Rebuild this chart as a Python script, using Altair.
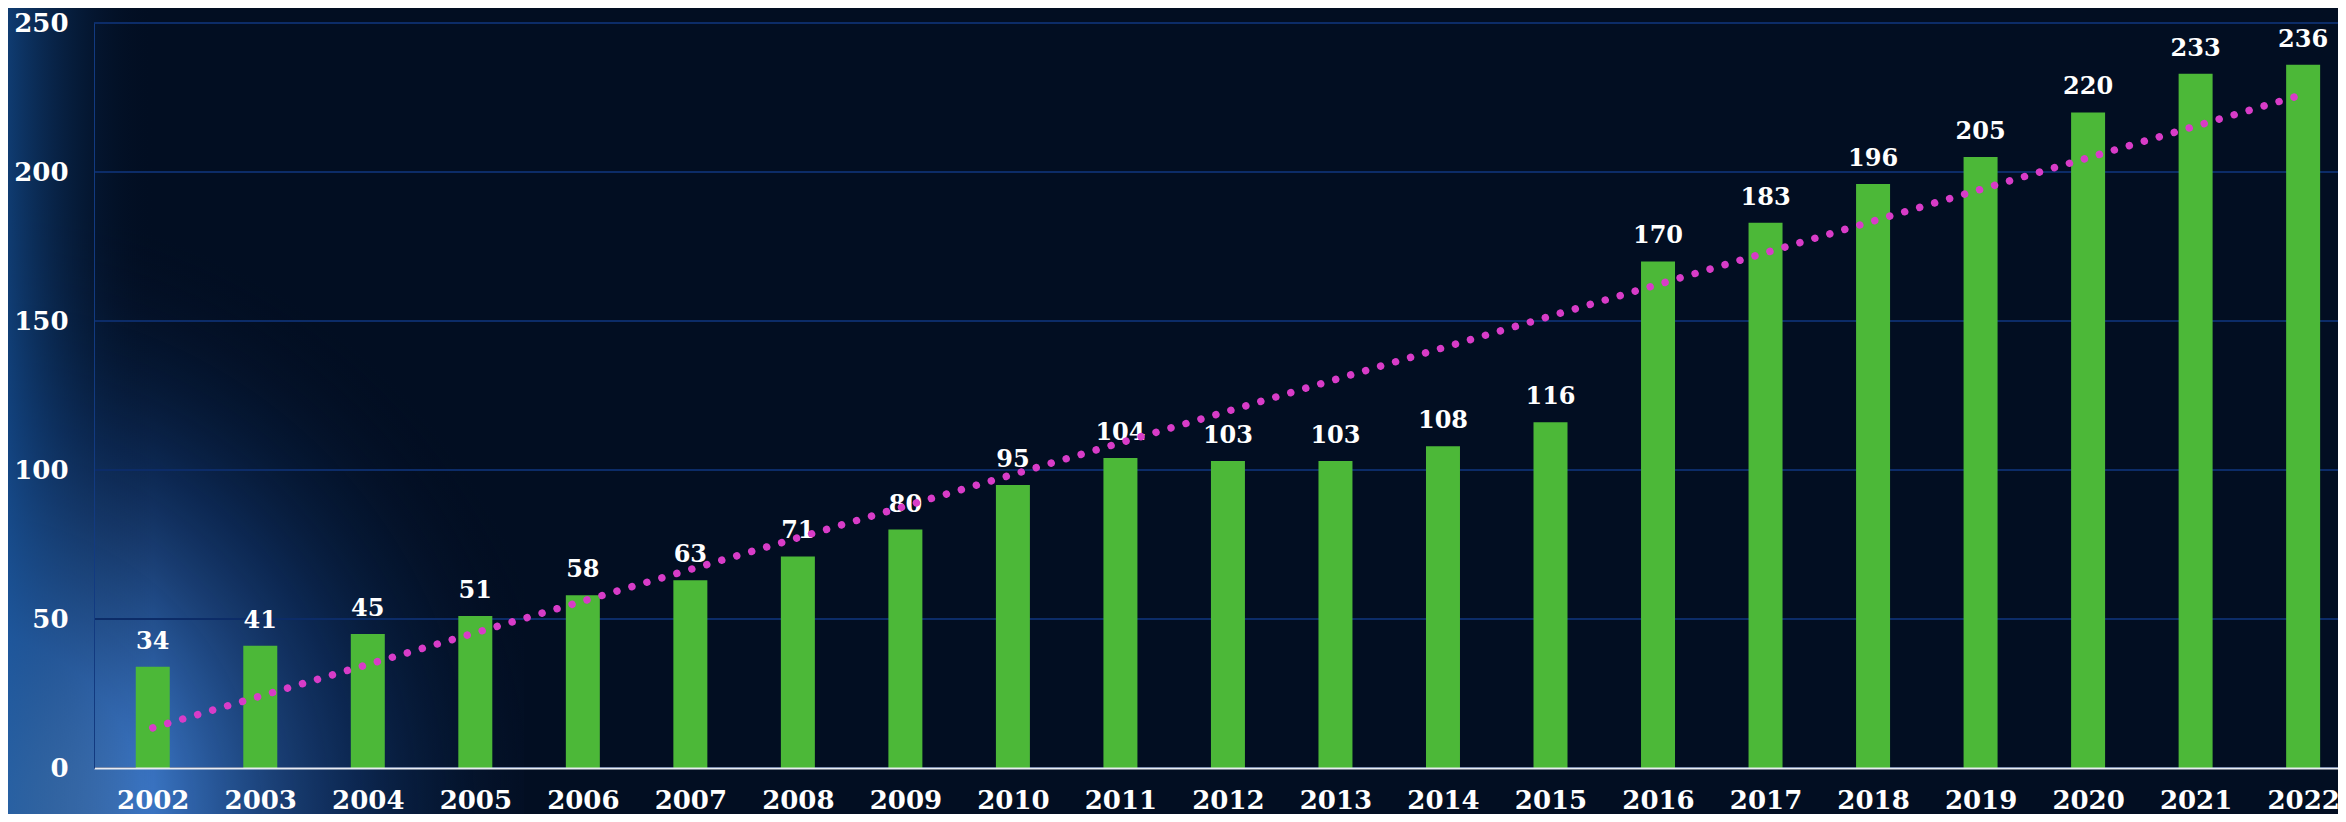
import altair as alt
import pandas as pd

years = list(range(2002, 2023))
values = [34, 41, 45, 51, 58, 63, 71, 80, 95, 104, 103, 103, 108, 116,
          170, 183, 196, 205, 220, 233, 236]
y_ticks = [0, 50, 100, 150, 200, 250]

df = pd.DataFrame({"year": years, "value": values})
grid_df = pd.DataFrame({"tick": y_ticks})

W, H = 2244, 745
FONT = "DejaVu Serif"
BG = "#020e22"

xscale = alt.Scale(domain=[2001.5, 2001.5 + W / 108.0], nice=False, zero=False)
yscale = alt.Scale(domain=[0, 250], nice=False)

x_axis = alt.Axis(values=years, format="d", title=None, grid=False,
                  tickSize=0, labelPadding=40, labelBaseline="alphabetic",
                  labelFont=FONT, zindex=1,
                  labelFontWeight="bold", labelFontSize=26,
                  labelColor="white", domainColor="#e8ecf2",
                  domainWidth=2, labelOverlap=False, labelFlush=False)
y_axis = alt.Axis(values=y_ticks, title=None, grid=False, tickSize=0,
                  labelPadding=26, labelFont=FONT, zindex=1,
                  labelFontWeight="bold", labelFontSize=26,
                  labelColor="white", domainColor="#123a80",
                  domainWidth=1)

# background glow (decoration)
glow = alt.Chart(pd.DataFrame({"a": [0]})).mark_rect(
    color=alt.Gradient(
        gradient="radial", x1=0, y1=1, x2=0, y2=1, r1=0, r2=1,
        stops=[alt.GradientStop(offset=0, color="#72aef0"),
               alt.GradientStop(offset=0.3, color="#3c78c8"),
               alt.GradientStop(offset=0.65, color="rgba(20,60,120,0.55)"),
               alt.GradientStop(offset=1, color="rgba(2,14,34,0)")])
).encode(x=alt.value(-86), x2=alt.value(430), y=alt.value(180), y2=alt.value(791))

edge = alt.Chart(pd.DataFrame({"a": [0]})).mark_rect(
    color=alt.Gradient(
        gradient="linear", x1=0, y1=0, x2=1, y2=0,
        stops=[alt.GradientStop(offset=0, color="rgba(20,75,140,0.75)"),
               alt.GradientStop(offset=1, color="rgba(2,14,34,0)")])
).encode(x=alt.value(-86), x2=alt.value(60), y=alt.value(-15), y2=alt.value(791))

grid = alt.Chart(grid_df).mark_rule(color="#0c2c68", strokeWidth=2).encode(
    y=alt.Y("tick:Q", scale=yscale, axis=y_axis))

bars = alt.Chart(df).mark_bar(size=34, color="#4cb838").encode(
    x=alt.X("year:Q", scale=xscale, axis=x_axis),
    y=alt.Y("value:Q", scale=yscale, axis=y_axis))

labels = alt.Chart(df).mark_text(
    font=FONT, fontWeight="bold", fontSize=24, color="white",
    baseline="alphabetic", dy=-18).encode(
    x="year:Q", y="value:Q", text="value:Q")

trend = alt.Chart(df).transform_regression("year", "value").mark_line(
    color="#d83cc8", strokeWidth=7.5, strokeCap="round",
    strokeDash=[0.01, 15.6]).encode(x="year:Q", y="value:Q")

chart = alt.layer(glow, edge, grid, bars, labels, trend).properties(
    width=W, height=H, background=BG,
    padding={"left": 86, "top": 15, "right": 0, "bottom": 46},
    autosize=alt.AutoSizeParams(type="none"),
).configure_view(stroke=None)

chart.save("out.html", embed_options={"renderer": "svg", "actions": False})
